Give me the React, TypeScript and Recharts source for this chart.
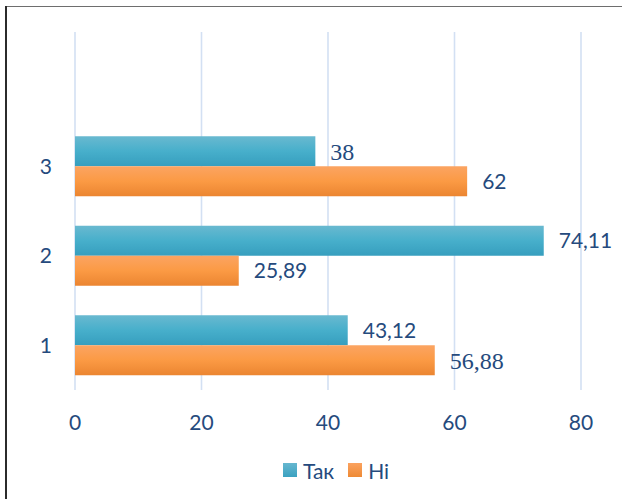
import React from "react";
import {
  BarChart,
  Bar,
  XAxis,
  YAxis,
  CartesianGrid,
  Legend,
  LabelList,
} from "recharts";

const categories = ["", "3", "2", "1"];
const takValues: (number | null)[] = [null, 38, 74.11, 43.12];
const niValues: (number | null)[] = [null, 62, 25.89, 56.88];
const xTicks = [0, 20, 40, 60, 80];
const seriesNames = ["Так", "Ні"];

const data = categories.map((name, i) => ({
  name,
  tak: takValues[i],
  ni: niValues[i],
}));

// labels drawn in a serif face in the reference (series key + category)
const serifLabels = ["tak-3", "ni-1"];

const TEXT = "#254A7D";
const SANS = "Lato, 'Noto Sans', sans-serif";
const SERIF = "'Liberation Serif', 'DejaVu Serif', serif";

function isSerif(key: string, values: (number | null)[], value: any) {
  const v = Array.isArray(value) ? value[value.length - 1] : value;
  const num = typeof v === "number" ? v : parseFloat(String(v));
  for (let i = 0; i < values.length; i++) {
    const cv = values[i];
    if (cv !== null && Math.abs(cv - num) < 1e-6) {
      return serifLabels.indexOf(key + "-" + categories[i]) >= 0;
    }
  }
  return false;
}

function makeLabel(key: string, values: (number | null)[]) {
  return function LabelContent(props: any) {
    const { x, y, width, height, value } = props;
    if (value === null || value === undefined) return null;
    const serif = isSerif(key, values, value);
    const family = serif ? SERIF : SANS;
    const size = serif ? 24 : 21;
    return (
      <text
        x={Number(x) + Number(width) + 15}
        y={Number(y) + Number(height) / 2}
        dy="0.36em"
        fill={TEXT}
        fontFamily={family}
        fontSize={size}
        style={{ fontFamily: family, fontSize: size }}
        textAnchor="start"
      >
        {String(value).replace(".", ",")}
      </text>
    );
  };
}

const LegendContent = () => (
  <div
    style={{
      display: "flex",
      justifyContent: "center",
      alignItems: "center",
      paddingLeft: 50,
      fontFamily: SANS,
      fontSize: 21,
      color: TEXT,
      height: 30,
    }}
  >
    <span style={{ display: "inline-flex", alignItems: "center", marginRight: 14 }}>
      <span
        style={{
          width: 14,
          height: 14,
          background: "linear-gradient(#66B7CF, #3BA2C1)",
          display: "inline-block",
          marginRight: 6,
        }}
      />
      {seriesNames[0]}
    </span>
    <span style={{ display: "inline-flex", alignItems: "center" }}>
      <span
        style={{
          width: 14,
          height: 14,
          background: "linear-gradient(#FBA25F, #EE8A35)",
          display: "inline-block",
          marginRight: 6,
        }}
      />
      {seriesNames[1]}
    </span>
  </div>
);

const takLabel = makeLabel("tak", takValues);
const niLabel = makeLabel("ni", niValues);

export default function App() {
  return (
    <div
      style={{
        position: "fixed",
        left: 0,
        top: 0,
        width: 622,
        height: 499,
        background: "#fff",
        overflow: "hidden",
      }}
    >
      <div
        style={{
          position: "absolute",
          left: 5,
          top: 6,
          width: 617,
          height: 1,
          background: "#6e6e6e",
        }}
      />
      <div
        style={{
          position: "absolute",
          left: 5,
          top: 6,
          width: 1.5,
          height: 493,
          background: "#2b2b2b",
        }}
      />
      <BarChart
        width={622}
        height={499}
        data={data}
        layout="vertical"
        margin={{ top: 32, right: 41, left: 15, bottom: 14 }}
        barCategoryGap="16.5%"
        barGap={0}
        style={{ position: "absolute", left: 0, top: 0 }}
      >
        <defs>
          <linearGradient id="gTak" x1="0" y1="0" x2="0" y2="1">
            <stop offset="0%" stopColor="#69B9D0" />
            <stop offset="50%" stopColor="#47AFCB" />
            <stop offset="100%" stopColor="#369EBE" />
          </linearGradient>
          <linearGradient id="gNi" x1="0" y1="0" x2="0" y2="1">
            <stop offset="0%" stopColor="#FBA462" />
            <stop offset="50%" stopColor="#FB9A44" />
            <stop offset="100%" stopColor="#EB8531" />
          </linearGradient>
        </defs>
        <CartesianGrid horizontal={false} stroke="#D3E0F3" strokeWidth={1.6} />
        <XAxis
          type="number"
          domain={[0, 80]}
          ticks={xTicks}
          axisLine={false}
          tickLine={false}
          tickSize={0}
          tickMargin={25}
          height={65}
          tick={{ fill: TEXT, fontSize: 21, fontFamily: SANS }}
        />
        <YAxis
          type="category"
          dataKey="name"
          width={60}
          axisLine={false}
          tickLine={false}
          tickSize={0}
          tickMargin={23}
          tick={{ fill: TEXT, fontSize: 21, fontFamily: SANS }}
        />
        <Legend
          verticalAlign="bottom"
          height={30}
          content={<LegendContent />}
          wrapperStyle={{ left: 0, width: 622 }}
        />
        <Bar dataKey="tak" name={seriesNames[0]} fill="url(#gTak)" isAnimationActive={false}>
          <LabelList dataKey="tak" content={takLabel} />
        </Bar>
        <Bar dataKey="ni" name={seriesNames[1]} fill="url(#gNi)" isAnimationActive={false}>
          <LabelList dataKey="ni" content={niLabel} />
        </Bar>
      </BarChart>
    </div>
  );
}
